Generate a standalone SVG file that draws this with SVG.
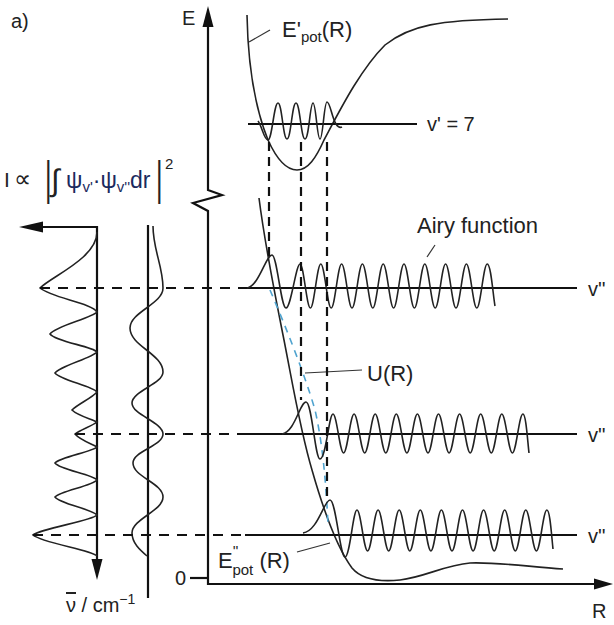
<svg xmlns="http://www.w3.org/2000/svg" width="614" height="625" viewBox="0 0 614 625">
<defs>
<style>
.ax{fill:none;stroke:#111;stroke-width:2.2}
.lv{fill:none;stroke:#111;stroke-width:2.2}
.cv{fill:none;stroke:#222;stroke-width:1.6}
.th{fill:none;stroke:#333;stroke-width:1.2}
.dh{fill:none;stroke:#111;stroke-width:2.2;stroke-dasharray:10,8}
.dv{fill:none;stroke:#111;stroke-width:2.2;stroke-dasharray:9,6}
.bl{fill:none;stroke:#4fa3cf;stroke-width:1.6;stroke-dasharray:7,6}
.ah{fill:#111;stroke:none}
text{font-family:"Liberation Sans",Arial,sans-serif;fill:#222}
.t20{font-size:20px}
.t22{font-size:22px}
</style>
</defs>
<rect width="614" height="625" fill="#fff"/>

<g id="axes">
<path class="ax" d="M208,24 L208,190 L222,195 L193,203 L208,211 L208,584 L597,584"/>
<polygon class="ah" points="208,6 202.5,27 213.5,27"/>
<polygon class="ah" points="613,584 594,578.5 594,589.5"/>
<path class="ax" d="M190,578 L208,578"/>
<text class="t20" x="182" y="25">E</text>
<text class="t20" x="592" y="618">R</text>
<text class="t20" x="175" y="585">0</text>
<text class="t20" x="11" y="28">a)</text>
</g>

<g id="spectrum-axes">
<path class="ax" d="M42,227 L97,227 L97,562"/>
<polygon class="ah" points="19,227 43,221.5 43,232.5"/>
<polygon class="ah" points="97,580 91.5,559 102.5,559"/>
<path class="ax" d="M148,225 L148,598"/>
<text class="t20" x="66" y="612"><tspan style="text-decoration:overline">ν</tspan> / cm<tspan font-size="14" dy="-8">−1</tspan></text>
</g>

<g id="intensity-formula">
<text x="4" y="187" font-family="Liberation Serif,serif" font-size="21">I</text>
<text x="14" y="187" font-size="24">∝</text>
<text x="0" y="0" font-size="46" transform="translate(45,194) scale(0.55,1)">|</text>
<text x="51" y="191" font-family="Liberation Serif,serif" font-size="31">∫</text>
<text x="66" y="188" font-size="23" style="fill:#1b2a5e">ψ<tspan font-size="15" dy="4">v'</tspan><tspan dy="-4">·ψ</tspan><tspan font-size="15" dy="4">v''</tspan><tspan dy="-4">dr</tspan></text>
<text x="0" y="0" font-size="46" transform="translate(156,194) scale(0.55,1)">|</text>
<text x="165" y="169" font-size="15">2</text>
</g>

<g id="spectrum-intensity">
<path class="cv" d="M97,232 C97,258 52,276 40,288 C52,298 92,303 97,312 C92,318 56,326 50,334 C56,342 92,346 97,352 C92,358 60,366 55,373 C60,380 92,386 97,392 C92,398 78,404 72,410 C78,416 92,419 97,422 C92,426 80,430 75,434 C80,440 92,444 97,447 C92,452 60,457 55,463 C60,470 92,474 97,480 C92,486 60,491 55,497 C60,504 92,509 97,515 C92,521 42,528 33,535 C42,543 92,550 97,556"/>
</g>

<g id="spectrum-overlap">
<path class="cv" d="M153,226 C153,250 163,266 163,288 C163,304 130,312 130,328 C130,346 163,354 163,372 C163,384 132,391 132,403 C132,415 163,422 163,434 C163,446 133,451 133,463 C133,477 163,483 163,497 C163,511 132,519 132,533 C132,543 140,550 147,556"/>
</g>

<g id="upper-state">
<path class="cv" d="M247,15 C248,70 256,110 268,140 C278,162 288,170 297,170 C308,170 316,158 324,140 C340,110 360,70 385,45 C410,25 440,20 508,19"/>
<path class="lv" d="M248,124 L417,124"/>
<path class="cv" d="M258,121 C262,126 264,140 268,140 C272,140 274,103 278,103 C282,103 283,139 287,139 C291,139 292,103 296,103 C300,103 301,139 305,139 C309,139 310,103 313,103 C316,103 317,139 320,139 C323,139 324,102 327,102 C330,102 332,118 336,124 C338,127 340,128 342,127"/>
<text class="t22" x="282" y="37">E'<tspan font-size="15" dy="5">pot</tspan><tspan dy="-5">(R)</tspan></text>
<path class="th" d="M249,42 L270,30"/>
<text class="t20" x="427" y="131">v' = 7</text>
</g>

<g id="lower-state">
<path class="cv" d="M259,198 C263,230 272,280 283,335 C292,380 300,430 312,470 C322,505 335,545 352,568 C362,580 380,582 400,580 C425,577 445,565 470,563 C500,562 530,567 563,569"/>
<path class="bl" d="M270,290 C285,325 305,375 315,410 C322,440 326,480 328,525"/>
<text class="t22" x="218" y="568">E<tspan font-size="15" dx="0" dy="-12">''</tspan><tspan font-size="15" dx="-6" dy="19">pot</tspan><tspan dy="-7"> (R)</tspan></text>
<path class="th" d="M297,552 L330,543"/>
<text class="t22" x="367" y="381">U(R)</text>
<path class="th" d="M305,373 L362,370"/>
<text class="t22" x="417" y="233">Airy function</text>
<path class="th" d="M435,245 L427,257"/>
</g>

<g id="level-top">
<path class="lv" d="M247,288 L577,288"/>
<path class="cv" d="M247,288 C259,286 266,255 272,255 C277,255 281,308 286,308 C291,308 296,264 300,264 C303.8,264 306.6,308 310.4,308 C314.2,308 317,264 320.8,264 C324.6,264 327.4,308 331.2,308 C335,308 337.8,264 341.6,264 C345.4,264 348.2,308 352,308 C355.8,308 358.6,264 362.4,264 C366.2,264 369,308 372.8,308 C376.6,308 379.4,264 383.2,264 C387,264 389.8,308 393.6,308 C397.4,308 400.2,264 404,264 C407.8,264 410.6,308 414.4,308 C418.2,308 421,264 424.8,264 C428.6,264 431.4,308 435.2,308 C439,308 441.8,264 445.6,264 C449.4,264 452.2,308 456,308 C459.8,308 462.6,264 466.4,264 C470.2,264 473,308 476.8,308 C480.6,308 483.4,264 487.2,264 C491,264 493,295 495,306"/>
<text class="t20" x="588" y="296">v''</text>
</g>

<g id="level-middle">
<path class="lv" d="M242,434 L577,434"/>
<path class="cv" d="M282,434 C295,432 300,402 306,402 C312,402 315,459 320,459 C326,459 329,414 333,414 C336.8,414 339.8,453 343.6,453 C347.4,453 350.3,414 354.1,414 C357.9,414 360.9,453 364.7,453 C368.5,453 371.4,414 375.2,414 C379,414 382,453 385.8,453 C389.6,453 392.5,414 396.3,414 C400.1,414 403.1,453 406.9,453 C410.7,453 413.6,414 417.4,414 C421.2,414 424.2,453 428,453 C431.8,453 434.7,414 438.5,414 C442.3,414 445.3,453 449.1,453 C452.9,453 455.8,414 459.6,414 C463.4,414 466.4,453 470.2,453 C474,453 476.9,414 480.7,414 C484.5,414 487.5,453 491.3,453 C495.1,453 498,414 501.8,414 C505.6,414 508.6,453 512.4,453 C516.2,453 519.1,414 522.9,414 C526,414 527.5,440 529,453"/>
<text class="t20" x="588" y="442">v''</text>
</g>

<g id="level-bottom">
<path class="lv" d="M245,535 L577,535"/>
<path class="cv" d="M303,533 C318,531 324,500 330,500 C336,500 340,557 345,557 C350,557 353,510 357,510 C360.8,510 363.8,551 367.6,551 C371.4,551 374.3,510 378.1,510 C381.9,510 384.9,551 388.7,551 C392.5,551 395.4,510 399.2,510 C403,510 406,551 409.8,551 C413.6,551 416.5,510 420.3,510 C424.1,510 427.1,551 430.9,551 C434.7,551 437.6,510 441.4,510 C445.2,510 448.2,551 452,551 C455.8,551 458.7,510 462.5,510 C466.3,510 469.3,551 473.1,551 C476.9,551 479.8,510 483.6,510 C487.4,510 490.4,551 494.2,551 C498,551 500.9,510 504.7,510 C508.5,510 511.5,551 515.3,551 C519.1,551 522,510 525.8,510 C529.6,510 532.6,551 536.4,551 C540.2,551 543.1,510 546.9,510 C550,510 551.5,535 553,549"/>
<text class="t20" x="588" y="543">v''</text>
</g>

<g id="connectors">
<path class="dh" d="M40,288 L247,288"/>
<path class="dh" d="M75,434 L242,434"/>
<path class="dh" d="M33,535 L245,535"/>
<path class="dv" d="M269,142 L269,258"/>
<path class="dv" d="M301,142 L301,400"/>
<path class="dv" d="M327,142 L327,496"/>
</g>
</svg>
